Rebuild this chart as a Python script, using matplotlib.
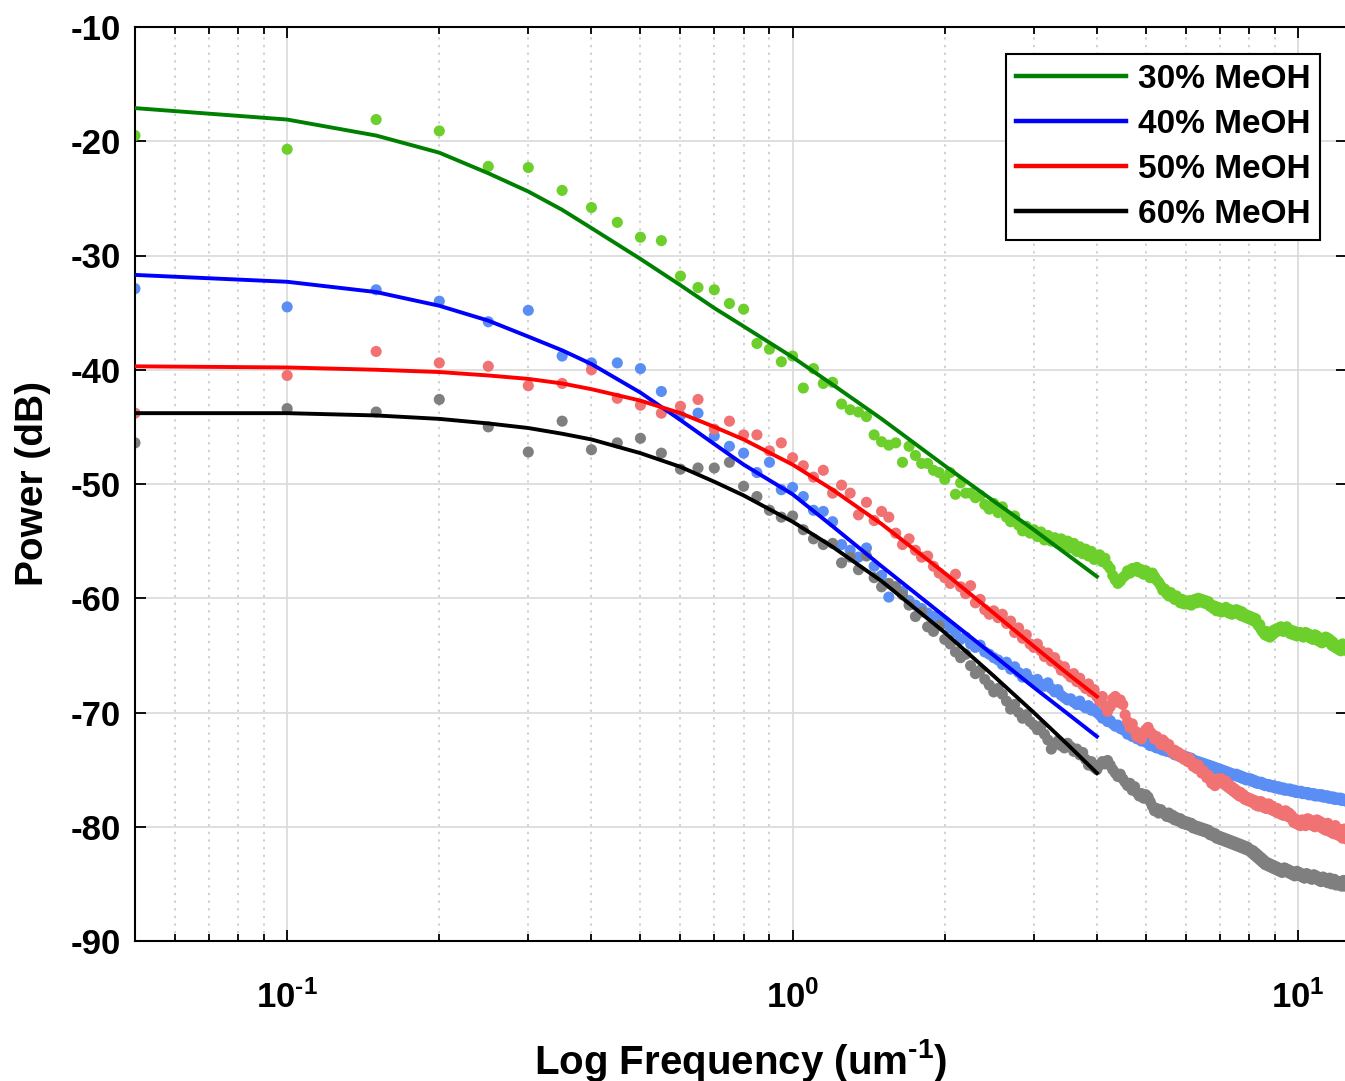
import numpy as np
from matplotlib import pyplot as plt
from matplotlib.ticker import LogLocator, FixedFormatter, FixedLocator, NullFormatter, MultipleLocator

config = {
    "font.family": ['Liberation Sans', 'DejaVu Sans'],
    "font.weight": 'bold',
    "mathtext.fontset": 'custom',
    "mathtext.rm": 'Liberation Sans:bold',
    "mathtext.bf": 'Liberation Sans:bold',
    "mathtext.default": 'bf',
    "axes.unicode_minus": False,
}
plt.rcParams.update(config)

# spatial frequency grid of the measured spectra (um^-1), 0.05 .. 12.5
freq = np.round(np.arange(1, 251) * 0.05, 2)

# measured power spectra (dB), one row = 10 samples
p30 = [
    -19.5, -20.7, -18.1, -19.1, -22.2, -22.3, -24.3, -25.8, -27.1, -28.4,
    -28.7, -31.8, -32.8, -33.0, -34.2, -34.7, -37.7, -38.2, -39.3, -38.8,
    -41.6, -39.9, -41.2, -41.1, -43.0, -43.5, -43.7, -44.1, -45.7, -46.3,
    -46.6, -46.4, -48.1, -46.7, -47.5, -48.2, -48.2, -48.8, -49.0, -49.6,
    -49.0, -50.9, -49.9, -50.8, -50.8, -51.2, -51.0, -51.8, -52.2, -51.7,
    -52.5, -52.0, -52.9, -53.3, -52.8, -53.6, -54.1, -53.7, -54.3, -54.0,
    -54.6, -54.2, -54.9, -54.5, -55.0, -54.7, -55.2, -54.8, -55.4, -55.0,
    -55.6, -55.2, -55.9, -55.5, -56.1, -55.7, -56.3, -55.9, -56.6, -56.4,
    -56.2, -56.8, -56.5, -57.1, -57.4, -58.0, -58.4, -58.7, -58.5, -58.2,
    -58.0, -57.6, -57.8, -57.4, -57.6, -57.3, -57.7, -57.5, -57.9, -57.6,
    -57.9, -58.2, -57.8, -58.1, -58.4, -58.6, -58.9, -59.3, -59.2, -59.6,
    -59.8, -59.5, -59.9, -60.1, -59.8, -60.2, -60.4, -60.1, -60.5, -60.3,
    -60.5, -60.2, -60.6, -60.3, -60.1, -60.4, -60.0, -60.3, -60.1, -60.4,
    -60.2, -60.5, -60.3, -60.7, -60.6, -60.9, -60.7, -61.1, -60.8, -61.0,
    -61.2, -60.9, -61.1, -60.8, -61.0, -61.3, -61.0, -61.4, -61.1, -61.3,
    -61.0, -61.3, -61.1, -61.5, -61.2, -61.6, -61.4, -61.7, -61.5, -61.8,
    -61.6, -61.9, -61.7, -62.0, -61.8, -62.2, -62.4, -62.3, -62.7, -62.9,
    -63.0, -63.2, -62.9, -63.3, -63.1, -63.4, -63.0, -63.2, -62.8, -63.0,
    -62.7, -62.9, -62.6, -62.8, -62.5, -62.7, -62.9, -62.6, -62.8, -62.5,
    -62.7, -62.9, -63.1, -62.8, -63.0, -63.2, -62.9, -63.1, -63.3, -63.0,
    -63.2, -63.0, -63.3, -63.1, -63.4, -63.2, -63.0, -63.3, -63.1, -63.4,
    -63.2, -63.5, -63.3, -63.6, -63.4, -63.2, -63.5, -63.3, -63.7, -63.5,
    -63.8, -63.6, -63.9, -63.5, -63.8, -63.6, -63.4, -63.7, -63.5, -63.8,
    -63.6, -63.9, -64.1, -63.8, -64.2, -64.0, -64.3, -64.1, -64.4, -64.2,
    -64.5, -64.2, -64.6, -64.3, -64.0, -64.4, -64.1, -64.5, -64.3, -64.6,
]
p40 = [
    -32.9, -34.5, -33.0, -34.0, -35.8, -34.8, -38.8, -39.4, -39.4, -39.9,
    -41.9, -44.0, -43.8, -45.8, -46.7, -47.3, -49.0, -48.1, -50.5, -50.3,
    -51.1, -52.3, -52.4, -53.3, -55.3, -55.8, -56.4, -55.6, -57.2, -58.0,
    -59.9, -59.0, -59.4, -60.2, -60.6, -60.9, -61.3, -61.6, -61.9, -62.2,
    -62.6, -63.0, -63.6, -63.4, -64.0, -64.3, -64.1, -64.7, -64.9, -65.2,
    -65.4, -65.8, -65.6, -66.2, -66.0, -66.5, -66.9, -66.6, -67.1, -67.3,
    -67.1, -67.5, -67.7, -67.4, -67.9, -68.2, -68.0, -68.5, -68.7, -68.9,
    -68.8, -69.1, -69.3, -69.0, -69.4, -69.6, -69.4, -69.8, -69.7, -70.0,
    -70.2, -70.5, -70.4, -70.8, -70.7, -71.0, -71.2, -71.1, -71.4, -71.5,
    -71.6, -71.9, -71.8, -72.1, -72.0, -72.3, -72.2, -72.5, -72.4, -72.6,
    -72.7, -72.9, -72.8, -73.0, -73.1, -72.9, -73.2, -73.3, -73.1, -73.4,
    -73.3, -73.5, -73.4, -73.7, -73.6, -73.8, -73.7, -73.9, -73.8, -74.0,
    -73.9, -74.1, -74.0, -74.3, -74.2, -74.4, -74.3, -74.5, -74.4, -74.6,
    -74.5, -74.7, -74.6, -74.8, -74.7, -74.9, -74.8, -75.0, -74.9, -75.0,
    -75.0, -75.2, -75.1, -75.3, -75.2, -75.4, -75.3, -75.5, -75.4, -75.5,
    -75.4, -75.6, -75.5, -75.7, -75.6, -75.8, -75.7, -75.9, -75.8, -75.9,
    -75.8, -76.0, -75.9, -76.1, -76.0, -76.2, -76.1, -76.2, -76.1, -76.3,
    -76.2, -76.4, -76.3, -76.4, -76.3, -76.5, -76.4, -76.5, -76.4, -76.6,
    -76.5, -76.6, -76.5, -76.7, -76.6, -76.7, -76.6, -76.8, -76.7, -76.8,
    -76.7, -76.8, -76.7, -76.9, -76.8, -76.9, -76.8, -77.0, -76.9, -77.0,
    -76.9, -77.0, -76.9, -77.1, -77.0, -77.1, -77.0, -77.1, -77.0, -77.2,
    -77.1, -77.2, -77.1, -77.2, -77.1, -77.3, -77.2, -77.3, -77.2, -77.3,
    -77.2, -77.3, -77.2, -77.4, -77.3, -77.4, -77.3, -77.4, -77.3, -77.5,
    -77.4, -77.5, -77.4, -77.5, -77.4, -77.6, -77.5, -77.6, -77.5, -77.6,
    -77.5, -77.6, -77.5, -77.7, -77.6, -77.7, -77.6, -77.7, -77.6, -77.8,
]
p50 = [
    -43.8, -40.5, -38.4, -39.4, -39.7, -41.4, -41.2, -40.0, -42.5, -43.1,
    -43.8, -43.2, -42.6, -45.2, -44.5, -45.7, -45.7, -47.1, -46.4, -47.7,
    -48.4, -49.4, -48.8, -50.8, -50.1, -50.8, -52.7, -51.6, -53.2, -52.4,
    -52.9, -54.3, -55.3, -54.8, -55.8, -56.4, -56.3, -57.2, -57.8, -58.2,
    -58.7, -57.9, -59.0, -59.6, -58.9, -60.4, -60.1, -61.0, -61.4, -61.1,
    -61.7, -61.4, -62.2, -62.0, -63.0, -62.6, -63.5, -63.2, -64.0, -64.3,
    -64.0, -64.6, -65.1, -64.8, -65.5, -65.2, -65.8, -66.3, -66.0, -66.6,
    -66.9, -66.6, -67.3, -67.0, -67.6, -67.9, -67.5, -68.2, -68.0, -68.6,
    -69.0, -68.6, -69.4, -69.9, -69.5, -68.8, -68.6, -69.1, -68.9, -69.3,
    -70.2, -70.8, -71.3, -71.0, -71.6, -72.1, -71.8, -72.3, -71.9, -71.5,
    -71.3, -71.7, -71.9, -72.3, -72.1, -72.5, -72.8, -72.4, -72.6, -73.0,
    -72.8, -73.2, -73.5, -73.3, -73.7, -73.5, -73.9, -73.7, -74.1, -74.0,
    -74.3, -74.0, -74.4, -74.7, -74.5, -74.9, -74.6, -75.0, -75.3, -75.1,
    -75.4, -75.7, -75.5, -75.9, -76.2, -76.0, -76.4, -76.1, -75.8, -76.0,
    -75.8, -76.1, -76.3, -76.0, -76.5, -76.3, -76.7, -76.5, -76.9, -76.7,
    -77.1, -76.9, -77.3, -77.0, -77.4, -77.2, -77.6, -77.4, -77.7, -77.5,
    -77.8, -77.6, -77.9, -77.7, -78.1, -77.8, -78.2, -78.0, -77.8, -78.1,
    -78.3, -78.0, -78.4, -78.2, -78.0, -78.3, -78.5, -78.2, -78.6, -78.4,
    -78.7, -78.4, -78.8, -78.6, -78.9, -78.7, -79.0, -78.8, -78.6, -78.9,
    -79.1, -78.8, -79.2, -79.0, -79.3, -79.6, -79.3, -79.7, -79.4, -79.8,
    -79.5, -79.9, -79.6, -79.4, -79.8, -79.5, -79.9, -79.6, -79.3, -79.7,
    -79.4, -79.8, -79.5, -79.9, -79.6, -80.0, -79.7, -79.4, -79.8, -79.5,
    -79.9, -79.6, -80.1, -79.8, -80.2, -79.9, -80.3, -80.0, -79.7, -80.1,
    -80.4, -80.1, -80.5, -80.2, -80.6, -80.3, -79.9, -80.4, -80.7, -80.2,
    -80.5, -80.8, -80.3, -80.7, -81.0, -80.6, -80.2, -80.8, -80.5, -81.1,
]
p60 = [
    -46.4, -43.4, -43.7, -42.6, -45.0, -47.2, -44.5, -47.0, -46.4, -46.0,
    -47.3, -48.7, -48.6, -48.6, -48.1, -50.2, -51.1, -52.3, -52.9, -52.8,
    -54.0, -54.8, -55.3, -55.2, -56.9, -56.4, -57.5, -56.3, -58.2, -59.0,
    -58.7, -59.0, -59.7, -60.6, -61.6, -61.2, -62.5, -62.9, -62.4, -63.6,
    -64.0, -64.7, -65.2, -64.9, -65.9, -66.6, -66.3, -67.1, -67.6, -68.2,
    -67.9, -68.4, -69.0, -69.7, -69.3, -70.0, -70.5, -70.2, -70.8, -71.1,
    -71.5, -71.2, -71.9, -72.4, -73.2, -72.8, -72.5, -72.9, -73.1, -72.7,
    -73.0, -73.4, -73.2, -73.7, -73.5, -74.1, -74.6, -74.3, -74.8, -75.0,
    -74.6, -74.3, -74.5, -74.2, -74.6, -75.0, -75.3, -75.6, -75.4, -75.8,
    -76.1, -76.4, -76.2, -76.8, -76.5, -77.0, -77.3, -77.1, -77.5, -77.2,
    -77.4, -77.8, -78.2, -78.6, -78.4, -78.8, -78.5, -78.7, -78.9, -79.1,
    -78.8, -79.2, -79.0, -79.4, -79.2, -79.5, -79.3, -79.7, -79.5, -79.8,
    -79.6, -79.9, -79.7, -80.1, -79.9, -80.2, -80.0, -80.3, -80.1, -80.4,
    -80.2, -80.5, -80.3, -80.7, -80.5, -80.8, -80.6, -81.0, -80.8, -81.1,
    -80.9, -81.2, -81.0, -81.3, -81.1, -81.4, -81.2, -81.5, -81.3, -81.6,
    -81.4, -81.7, -81.5, -81.8, -81.6, -81.9, -81.7, -82.0, -81.8, -82.1,
    -82.0, -82.3, -82.1, -82.5, -82.3, -82.7, -82.5, -82.9, -82.7, -83.1,
    -82.9, -83.3, -83.1, -83.4, -83.2, -83.5, -83.3, -83.6, -83.4, -83.7,
    -83.5, -83.8, -83.6, -83.9, -83.7, -84.0, -83.8, -83.6, -83.9, -83.7,
    -84.0, -83.8, -84.1, -83.9, -84.2, -84.0, -84.3, -84.1, -83.9, -84.2,
    -84.0, -84.3, -84.1, -84.4, -84.2, -84.5, -84.3, -84.1, -84.4, -84.2,
    -84.5, -84.3, -84.6, -84.4, -84.2, -84.5, -84.3, -84.6, -84.4, -84.7,
    -84.5, -84.8, -84.6, -84.4, -84.7, -84.5, -84.8, -84.6, -84.9, -84.7,
    -84.5, -84.8, -85.0, -84.7, -84.9, -84.6, -84.9, -85.1, -84.8, -85.0,
    -84.8, -85.1, -84.9, -85.2, -85.0, -84.7, -85.0, -85.2, -84.9, -85.1,
]

# fitted model curves, evaluated up to 4 um^-1
fit_freq = [0.05, 0.1, 0.15, 0.2, 0.25, 0.3, 0.35, 0.4, 0.5, 0.6,
            0.7, 0.8, 1.0, 1.2, 1.5, 2.0, 2.5, 3.0, 3.5, 4.0]
fit30 = [-17.1, -18.1, -19.5, -21.0, -22.8, -24.4, -26.0, -27.6, -30.3, -32.6,
         -34.6, -36.2, -38.9, -41.3, -44.3, -48.4, -51.5, -54.0, -56.2, -58.1]
fit40 = [-31.7, -32.3, -33.2, -34.4, -35.7, -37.1, -38.3, -39.5, -42.0, -44.4,
         -46.5, -48.3, -50.9, -53.7, -57.2, -61.6, -65.0, -67.8, -70.1, -72.1]
fit50 = [-39.7, -39.8, -40.0, -40.2, -40.5, -40.8, -41.2, -41.7, -42.7, -43.8,
         -45.0, -46.1, -48.3, -50.5, -53.5, -57.8, -61.3, -64.2, -66.6, -68.6]
fit60 = [-43.8, -43.8, -44.0, -44.3, -44.7, -45.1, -45.6, -46.1, -47.3, -48.5,
         -49.8, -51.0, -53.3, -55.5, -58.5, -63.0, -66.8, -70.0, -72.8, -75.3]

labels = ['30% MeOH', '40% MeOH', '50% MeOH', '60% MeOH']
dot_colors = ['#6ccf2b', '#5b8ef5', '#f07272', '#7f7f7f']
line_colors = ['#008000', '#0000ff', '#ff0000', '#000000']

decades = [0.1, 1, 10]
decade_labels = [r'$10^{\text{-}1}$', r'$10^{0}$', r'$10^{1}$']

fig = plt.figure(figsize=(13.45, 10.81), dpi=100)
ax = fig.add_axes([135 / 1345, 140 / 1081, 1212 / 1345, 914 / 1081])

for p, c in zip([p30, p40, p50, p60], dot_colors):
    ax.scatter(freq, p, s=64, color=c, edgecolors='none', zorder=2)

for f, c, lab in zip([fit30, fit40, fit50, fit60], line_colors, labels):
    ax.plot(fit_freq, f, color=c, linewidth=2.8, label=lab, zorder=3)

ax.set_xscale('log')
ax.set_xlim(0.05, 12.5)
ax.set_ylim(-90, -10)
ax.yaxis.set_major_locator(MultipleLocator(10))
ax.xaxis.set_major_locator(FixedLocator(decades))
ax.xaxis.set_major_formatter(FixedFormatter(decade_labels))
ax.xaxis.set_minor_locator(LogLocator(base=10, subs=np.arange(2, 10)))
ax.xaxis.set_minor_formatter(NullFormatter())

ax.grid(which='major', color='#d9d9d9', linewidth=1.2, linestyle='-', zorder=0)
ax.grid(which='minor', axis='x', color='#c4c4c4', linewidth=1.1, linestyle=(0, (1.5, 3.5)), zorder=0)
ax.set_axisbelow(True)

ax.tick_params(which='both', direction='in', top=True, right=True, width=1.3)
ax.tick_params(which='major', length=8, labelsize=25, pad=10)
ax.tick_params(which='minor', length=5)
ax.tick_params(axis='x', which='major', pad=28)
for s in ax.spines.values():
    s.set_linewidth(1.5)

ax.set_xlabel(r'Log Frequency (um$^{\text{-}1}$)', fontsize=29, fontweight='bold', labelpad=16)
ax.set_ylabel('Power (dB)', fontsize=28, fontweight='bold', labelpad=14)

leg = ax.legend(loc='upper right', bbox_to_anchor=(0.978, 0.9705), borderaxespad=0,
                fontsize=24, handlelength=3.3, labelspacing=0.42, handletextpad=0.35,
                borderpad=0.3, fancybox=False, framealpha=1, edgecolor='black')
leg.get_frame().set_linewidth(1.5)
for h in leg.get_lines():
    h.set_linewidth(3.2)

fig.savefig('out.png', dpi=100)
